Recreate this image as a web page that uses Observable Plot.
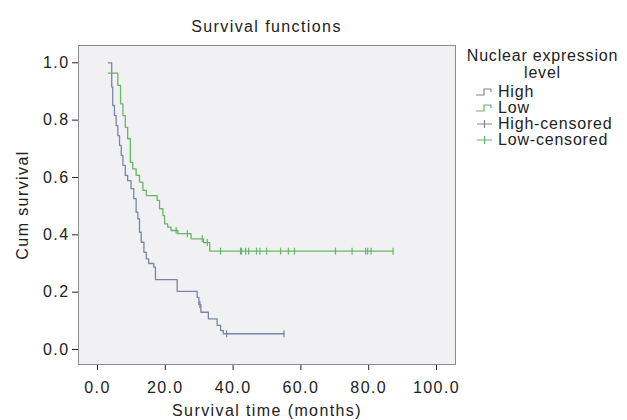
<!DOCTYPE html>
<html>
<head>
<meta charset="utf-8">
<script src="https://cdn.jsdelivr.net/npm/d3@7"></script>
<script src="https://cdn.jsdelivr.net/npm/@observablehq/plot@0.6"></script>
<style>
  body { margin: 0; background: #fff; overflow: hidden; }
  #wrap { position: relative; width: 627px; height: 420px; overflow: hidden;
          font-family: "Liberation Sans", Arial, sans-serif; color: #222; letter-spacing: 1.4px; }
  #chart { position: absolute; left: 0; top: 0; }
  #title { position: absolute; left: 78px; width: 377px; top: 17px; text-align: center;
           font-size: 16px; line-height: 20px; }
  #legend { position: absolute; left: 459px; top: 47px; width: 167px; font-size: 16px;
            white-space: nowrap; letter-spacing: 0.8px; }
  #legend .lt { text-align: center; line-height: 17px; }
  #legend .items { margin-top: 3px; }
  #legend .item { display: flex; align-items: center; height: 16px; line-height: 16px; }
  #legend svg { margin-left: 17px; margin-right: 4px; flex: none; }
</style>
</head>
<body>
<div id="wrap">
  <div id="chart"></div>
  <div id="title"></div>
  <div id="legend"></div>
</div>
<script>
// ---- data ----
const groups = ["High", "Low"];
const groupColors = ["#7c84a6", "#66b866"];

// Kaplan–Meier step points (time in months, cumulative survival)
const highTime = [3.2, 4.2, 4.5, 5.0, 5.5, 6.0, 6.5, 7.0, 7.5, 8.2, 8.9, 9.9, 10.7, 11.4, 11.9, 12.4, 12.9, 13.7, 14.4, 15.1, 16.6, 17.1, 23.5, 29.4, 29.9, 30.5, 32.7, 35.3, 36.3, 37.1, 55.0];
const highSurv = [1.000, 0.915, 0.851, 0.816, 0.781, 0.746, 0.712, 0.677, 0.642, 0.607, 0.589, 0.561, 0.526, 0.479, 0.456, 0.409, 0.374, 0.339, 0.316, 0.300, 0.287, 0.244, 0.203, 0.182, 0.157, 0.130, 0.107, 0.084, 0.066, 0.055, 0.055];
const highCensor = [30.2, 38.1, 55.0];

const lowTime = [3.2, 6.0, 6.8, 7.5, 8.2, 8.9, 9.7, 10.4, 11.4, 12.4, 13.4, 14.4, 17.6, 18.3, 19.3, 19.8, 20.7, 21.7, 23.7, 27.6, 31.3, 33.1, 87.2];
const lowSurv = [0.964, 0.921, 0.857, 0.816, 0.775, 0.735, 0.653, 0.630, 0.607, 0.584, 0.555, 0.537, 0.520, 0.491, 0.467, 0.438, 0.427, 0.415, 0.404, 0.386, 0.373, 0.343, 0.343];
const lowCensor = [23.2, 26.5, 30.9, 32.4, 36.3, 42.2, 42.5, 43.7, 44.6, 46.9, 47.9, 49.9, 54.0, 56.3, 58.1, 70.2, 75.1, 79.1, 79.7, 80.7, 87.2];

const xTicks = [0, 20, 40, 60, 80, 100];
const yTicks = [0, 0.2, 0.4, 0.6, 0.8, 1.0];
const titleText = "Survival functions";
const xLabel = "Survival time (months)";
const yLabel = "Cum survival";
const legendTitle = ["Nuclear expression", "level"];
const legendItems = ["High", "Low", "High-censored", "Low-censored"];

// ---- build tables ----
function stepRows(times, surv, group) {
  return times.map((t, i) => ({time: t, surv: surv[i], group}));
}
function survAt(times, surv, t) {
  let s = surv[0];
  for (let i = 0; i < times.length; i++) if (times[i] <= t) s = surv[i];
  return s;
}
const curveRows = [...stepRows(highTime, highSurv, "High"), ...stepRows(lowTime, lowSurv, "Low")];
const censorRows = [
  ...highCensor.map(t => ({time: t, surv: survAt(highTime, highSurv, t), group: "High"})),
  ...lowCensor.map(t => ({time: t, surv: survAt(lowTime, lowSurv, t), group: "Low"}))
];

const tickSymbol = {
  draw(ctx, size) {
    const r = Math.sqrt(size / Math.PI);
    ctx.moveTo(0, -r);
    ctx.lineTo(0, r);
  }
};

const fmt = d3.format(".1f");

const chart = Plot.plot({
  width: 627,
  height: 420,
  marginTop: 45,
  marginRight: 172,
  marginBottom: 56,
  marginLeft: 78,
  style: "font-family: 'Liberation Sans', Arial, sans-serif; font-size: 16px; letter-spacing: 1.4px; color: #222; background: transparent;",
  x: {
    domain: [-5.6, 105.6],
    ticks: xTicks,
    tickFormat: fmt,
    tickSize: 6,
    tickPadding: 11,
    label: xLabel,
    labelAnchor: "center",
    labelArrow: "none",
    labelOffset: 51
  },
  y: {
    domain: [-0.0523, 1.0603],
    ticks: yTicks,
    tickFormat: fmt,
    tickSize: 6,
    tickPadding: 3,
    label: yLabel,
    labelAnchor: "center",
    labelArrow: "none",
    labelOffset: 62
  },
  color: {domain: groups, range: groupColors},
  marks: [
    Plot.frame({fill: "#f1f1f4", stroke: "none"}),
    Plot.line(curveRows, {x: "time", y: "surv", z: "group", stroke: "group", curve: "step-after", strokeWidth: 1.3}),
    Plot.dot(censorRows, {x: "time", y: "surv", stroke: "group", fill: "none", symbol: tickSymbol, r: 3.5, strokeWidth: 1.2}),
    Plot.frame({stroke: "#8d8d8d", strokeWidth: 1})
  ]
});
document.getElementById("chart").appendChild(chart);

// title
document.getElementById("title").textContent = titleText;

// legend
const legend = document.getElementById("legend");
legendTitle.forEach(t => {
  const d = document.createElement("div");
  d.className = "lt";
  d.textContent = t;
  legend.appendChild(d);
});
const items = document.createElement("div");
items.className = "items";
legend.appendChild(items);
const stepPath = "M0,8 H8 V2 H15 V5";
const plusPath = "M1,5 H16 M8.5,1 V9";
legendItems.forEach((name, i) => {
  const color = groupColors[i % 2];
  const path = i < 2 ? stepPath : plusPath;
  const row = document.createElement("div");
  row.className = "item";
  row.innerHTML = `<svg width="18" height="10" viewBox="0 0 18 10"><path d="${path}" fill="none" stroke="${color}" stroke-width="1.2"/></svg><span></span>`;
  row.querySelector("span").textContent = name;
  items.appendChild(row);
});
</script>
</body>
</html>
